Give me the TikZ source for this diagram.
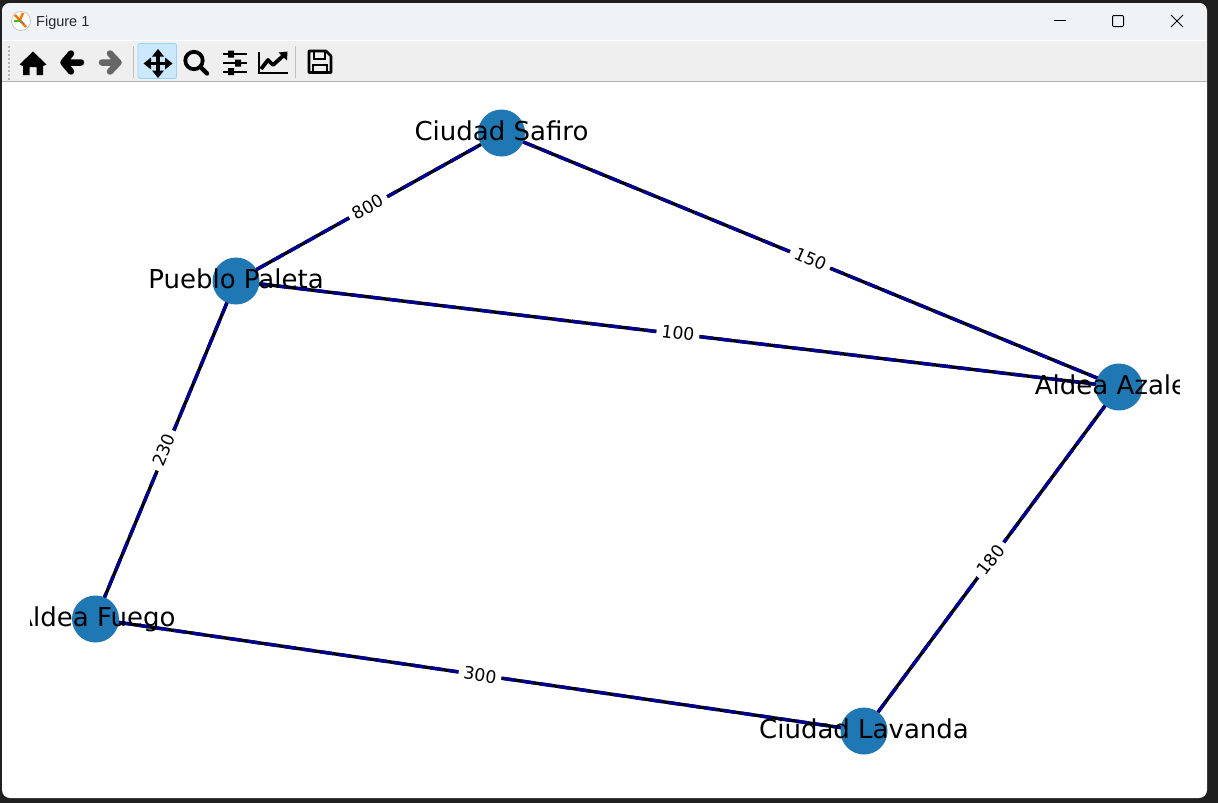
\documentclass[tikz,border=0pt]{standalone}
\usepackage{fontspec}
\setmainfont{DejaVu Sans}
\newfontfamily\uifont{Liberation Sans}
\usetikzlibrary{calc}
\definecolor{mplblue}{HTML}{1F77B4}
\definecolor{navyedge}{HTML}{00008B}
\definecolor{titlebg}{HTML}{F0F3F5}
\definecolor{toolbg}{HTML}{EFEFEF}
\definecolor{outer}{HTML}{202020}
\definecolor{activebg}{HTML}{CCE8FF}
\definecolor{activeedge}{HTML}{99D1FF}
\tikzset{
  x=1pt,y=-1pt,
  graphnode/.style={circle,fill=mplblue,draw=none,minimum size=47pt,inner sep=0pt,outer sep=0pt},
  nodelabel/.style={font=\fontsize{26}{26}\selectfont,text=black,inner sep=0pt,anchor=base},
  edgeback/.style={draw=black,line width=3.4pt},
  edgefront/.style={draw=navyedge,line width=3.4pt,dash pattern=on 13pt off 5.5pt},
  edgelabel/.style={font=\fontsize{17.3}{17.3}\selectfont,fill=white,text=black,inner sep=5pt},
  iconline/.style={draw=black,line width=2pt},
  sep/.style={draw=black!25,line width=1pt},
}
\begin{document}
\begin{tikzpicture}
\useasboundingbox (0,0) rectangle (1218,803);
\fill[outer] (0,0) rectangle (1218,803);
\fill[white,rounded corners=8pt] (2,3) rectangle (1207,798);
% title bar
\begin{scope}
\clip[rounded corners=8pt] (2,3) rectangle (1207,798);
\fill[titlebg] (2,3) rectangle (1207,40);
\fill[white] (2,40) rectangle (1207,41);
\fill[toolbg] (2,41) rectangle (1207,81);
\fill[black!30] (2,81) rectangle (1207,82);
\end{scope}
% app icon
\fill[white] (21,21) circle (9.5);
\draw[black!25,line width=.7pt] (21,21) circle (9.5);
\draw[orange!90!red,line width=2.4pt] (15,15) -- (26,27);
\draw[orange!90!red,line width=2.4pt] (23,13) -- (20,20);
\draw[green!50!olive,line width=2pt] (14,21) -- (21,21);
\draw[black!50,line width=1.5pt] (21,21) -- (24,24);
\node[anchor=west,inner sep=0pt,font=\uifont\fontsize{14.5}{15}\selectfont,text=black!85] (title) at (36,23) {Figure 1};
% window buttons
\draw[black,line width=1pt] (1054,20.5) -- (1066,20.5);
\draw[black,line width=1pt,rounded corners=1pt] (1112.5,15.5) rectangle (1123.5,26.5);
\draw[black,line width=1pt] (1171,15) -- (1183,27) (1183,15) -- (1171,27);
% toolbar grip
\foreach \yy in {46,50,...,78}{\fill[black!30] (8,\yy) rectangle (9.5,\yy+1.5);}
% home
\fill[black] (33,51.5) -- (46.5,64.5) -- (43,66) -- (43,75) -- (36.5,75) -- (36.5,67) -- (29.5,67) -- (29.5,75) -- (23,75) -- (23,66) -- (19.5,64.5) -- cycle;
% back
\draw[black,line width=6.5pt,line cap=round,line join=round] (71,53.5) -- (63.5,62.5) -- (71,71.5) (64,62.5) -- (81,62.5);
% forward
\draw[black!60,line width=6.5pt,line cap=round,line join=round] (110,53.5) -- (118.5,62.5) -- (110,71.5) (118,62.5) -- (102,62.5);
\draw[sep] (133.5,46) -- (133.5,78);
% pan active
\fill[activebg,draw=activeedge,line width=.8pt,rounded corners=2pt] (138,43.5) rectangle (176.5,78.5);
\draw[black,line width=3.2pt] (146,63.5) -- (170,63.5) (158,51.5) -- (158,75.5);
\fill[black] (158,49) -- (164,56.5) -- (152,56.5) -- cycle;
\fill[black] (158,78) -- (164,70.5) -- (152,70.5) -- cycle;
\fill[black] (143.5,63.5) -- (151,57.5) -- (151,69.5) -- cycle;
\fill[black] (172.5,63.5) -- (165,57.5) -- (165,69.5) -- cycle;
% zoom
\draw[black,line width=3.8pt] (194,60.5) circle (8.7);
\draw[black,line width=4.4pt,line cap=round] (201,67.5) -- (207,73.5);
% sliders
\draw[iconline] (223,54) -- (247,54) (223,63) -- (247,63) (223,71.5) -- (247,71.5);
\fill[black] (228,50.5) rectangle (234,57.5) (235,59.5) rectangle (241,66.5) (228,68) rectangle (234,75);
% chart
\draw[black,line width=1.8pt] (259,52) -- (259,73) -- (288,73);
\draw[black,line width=3.8pt,line join=round] (261,69) -- (268,60) -- (273,65) -- (284,55);
\fill[black] (287.5,51.5) -- (287,60.5) -- (278.5,52.5) -- cycle;
\draw[sep] (295.5,46) -- (295.5,78);
% save
\draw[black,line width=2.6pt,line join=round] (309,51) -- (326,51) -- (331,56) -- (331,72.5) -- (309,72.5) -- cycle;
\draw[black,line width=2.2pt] (314,51) -- (314,59) -- (325,59) -- (325,51);
\draw[black,line width=2.2pt] (313,72.5) -- (313,65) -- (327,65) -- (327,72.5);
% graph
\begin{scope}
\clip (30,82) rectangle (1179,798);
\node[graphnode] (safiro) at (501.5,133) {};
\node[graphnode] (paleta) at (236,281) {};
\node[graphnode] (azalea) at (1119,387) {};
\node[graphnode] (fuego) at (95.5,619) {};
\node[graphnode] (lavanda) at (864,731) {};
\foreach \a/\b in {paleta/safiro,safiro/azalea,paleta/azalea,paleta/fuego,fuego/lavanda,lavanda/azalea}{
  \draw[edgeback] (\a) -- (\b);
  \draw[edgefront] (\a) -- (\b);
}
\node[nodelabel] (lsafiro) at (501.5,140.5) {Ciudad Safiro};
\node[nodelabel] (lpaleta) at (236,288.5) {Pueblo Paleta};
\node[nodelabel] (lazalea) at (1119,394.5) {Aldea Azalea};
\node[nodelabel] (lfuego) at (95.5,626.5) {Aldea Fuego};
\node[nodelabel] (llavanda) at (864,738.5) {Ciudad Lavanda};
\node[edgelabel,rotate=29.2] (e1) at (368,207) {800};
\node[edgelabel,rotate=-24] (e2) at (810.5,259) {150};
\node[edgelabel,rotate=-7] (e3) at (678,333) {100};
\node[edgelabel,rotate=67] (e4) at (164,450) {230};
\node[edgelabel,rotate=-8.3] (e5) at (480,675) {300};
\node[edgelabel,rotate=52.5] (e6) at (991,560) {180};
\end{scope}
\end{tikzpicture}
\end{document}
